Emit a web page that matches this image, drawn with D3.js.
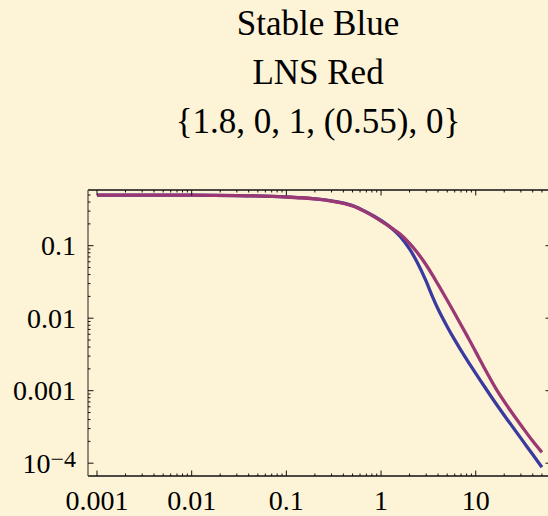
<!DOCTYPE html>
<html>
<head>
<meta charset="utf-8">
<script src="https://cdn.jsdelivr.net/npm/d3@7/dist/d3.min.js"></script>
<style>
  html, body { margin: 0; padding: 0; background: #fdf4d7; }
  svg { display: block; }
</style>
</head>
<body>
<script>
// ---- data ----
const titleLines = ["Stable Blue", "LNS Red", "{1.8, 0, 1, (0.55), 0}"];

const xValues = [0.001, 0.003, 0.01, 0.03, 0.1, 0.2, 0.3, 0.5, 0.7, 1, 1.3, 1.6, 2, 2.4, 3, 3.5, 4, 5, 6, 7.6, 8.6, 11, 12.4, 16.4, 22, 31.4, 40, 50];

const stableBlue = [0.4997, 0.4992, 0.497, 0.4915, 0.470, 0.443, 0.415, 0.358, 0.292, 0.2228, 0.173, 0.1334, 0.0902, 0.0596, 0.0322, 0.0197, 0.01337, 0.00764, 0.00502, 0.00302, 0.00235, 0.001435, 0.001135, 0.000661, 0.000385, 0.000203, 0.000132, 0.0000881];

const lnsRed = [0.4997, 0.4992, 0.497, 0.4915, 0.469, 0.441, 0.412, 0.354, 0.288, 0.2188, 0.175, 0.1436, 0.1074, 0.0811, 0.0542, 0.0392, 0.0292, 0.01766, 0.01161, 0.00665, 0.00497, 0.00272, 0.00203, 0.00106, 0.000592, 0.000309, 0.000202, 0.000141];

const xMajorTicks = [0.001, 0.01, 0.1, 1, 10];
const xTickLabels = ["0.001", "0.01", "0.1", "1", "10"];
const yMajorTicks = [0.1, 0.01, 0.001, 0.0001];
const yTickLabels = ["0.1", "0.01", "0.001", "10^-4"];

// ---- layout ----
const W = 548, H = 516;
const pLeft = 88, pRight = 551, pTop = 190, pBottom = 476;

const svg = d3.select("body").append("svg").attr("width", W).attr("height", H);
svg.append("rect").attr("width", W).attr("height", H).attr("fill", "#fdf4d7");

const x = d3.scaleLog().domain([Math.pow(10, -3.095), Math.pow(10, 1.795)]).range([pLeft, pRight]);
const y = d3.scaleLog().domain([Math.pow(10, -4.1766), Math.pow(10, -0.2317)]).range([pBottom, pTop]);

const font = "'Liberation Serif', 'Times New Roman', serif";

// title
svg.append("g").selectAll("text").data(titleLines).join("text")
  .attr("x", 318).attr("y", (d, i) => 35 + i * 49)
  .attr("text-anchor", "middle")
  .attr("font-family", font)
  .attr("font-size", 35).attr("fill", "#000")
  .text(d => d);

// minor ticks
function minorTicks(lo, hi) {
  const out = [];
  for (let e = Math.floor(Math.log10(lo)); e <= Math.ceil(Math.log10(hi)); e++) {
    for (let k = 2; k <= 9; k++) {
      const v = k * Math.pow(10, e);
      if (v > lo && v < hi) out.push(v);
    }
  }
  return out;
}
const xMinor = minorTicks(0.001, x.domain()[1]);
const yMinor = minorTicks(0.0001, y.domain()[1]);

// curves
const line = d3.line().x(d => x(d[0])).y(d => y(d[1])).curve(d3.curveMonotoneX);
const g = svg.append("g");
g.append("path").datum(xValues.map((v, i) => [v, stableBlue[i]]))
  .attr("d", line).attr("fill", "none").attr("stroke", "#3a3b9f").attr("stroke-width", 3.3);
g.append("path").datum(xValues.map((v, i) => [v, lnsRed[i]]))
  .attr("d", line).attr("fill", "none").attr("stroke", "#9b3874").attr("stroke-width", 3.3);

// frame
const frame = svg.append("g");
frame.append("line").attr("x1", pLeft).attr("x2", pRight).attr("y1", pBottom).attr("y2", pBottom).attr("stroke", "#111").attr("stroke-width", 1.3);
frame.append("line").attr("x1", pLeft).attr("x2", pRight).attr("y1", pTop).attr("y2", pTop).attr("stroke", "#111").attr("stroke-width", 1.3);
frame.append("line").attr("x1", pLeft).attr("x2", pLeft).attr("y1", pTop).attr("y2", pBottom).attr("stroke", "#5a5048").attr("stroke-width", 1.3);
frame.append("line").attr("x1", pRight).attr("x2", pRight).attr("y1", pTop).attr("y2", pBottom).attr("stroke", "#5a5048").attr("stroke-width", 1.3);

// ticks (inward on all four sides)
const tk = svg.append("g").attr("stroke", "#111").attr("stroke-width", 1);
xMajorTicks.forEach(v => {
  tk.append("line").attr("x1", x(v)).attr("x2", x(v)).attr("y1", pBottom).attr("y2", pBottom - 5.5);
  tk.append("line").attr("x1", x(v)).attr("x2", x(v)).attr("y1", pTop).attr("y2", pTop + 5.5);
});
xMinor.forEach(v => {
  tk.append("line").attr("x1", x(v)).attr("x2", x(v)).attr("y1", pBottom).attr("y2", pBottom - 2.5);
  tk.append("line").attr("x1", x(v)).attr("x2", x(v)).attr("y1", pTop).attr("y2", pTop + 2.5);
});
yMajorTicks.forEach(v => {
  tk.append("line").attr("x1", pLeft).attr("x2", pLeft + 5.5).attr("y1", y(v)).attr("y2", y(v));
  tk.append("line").attr("x1", pRight).attr("x2", pRight - 5.5).attr("y1", y(v)).attr("y2", y(v));
});
yMinor.forEach(v => {
  tk.append("line").attr("x1", pLeft).attr("x2", pLeft + 2.5).attr("y1", y(v)).attr("y2", y(v));
  tk.append("line").attr("x1", pRight).attr("x2", pRight - 2.5).attr("y1", y(v)).attr("y2", y(v));
});

// tick labels
svg.append("g").selectAll("text").data(xMajorTicks).join("text")
  .attr("x", d => x(d)).attr("y", 510)
  .attr("text-anchor", "middle").attr("font-family", font).attr("font-size", 28)
  .text((d, i) => xTickLabels[i]);

const yl = svg.append("g");
yMajorTicks.forEach((v, i) => {
  const lab = yTickLabels[i];
  const t = yl.append("text").attr("x", 76).attr("y", y(v) + 9.5)
    .attr("text-anchor", "end").attr("font-family", font).attr("font-size", 28);
  if (lab.includes("^")) {
    const parts = lab.split("^");
    t.append("tspan").text(parts[0]);
    t.append("tspan").attr("font-size", 24).attr("dy", -6).text(parts[1].replace("-", "\u2212"));
  } else {
    t.text(lab);
  }
});
</script>
</body>
</html>
